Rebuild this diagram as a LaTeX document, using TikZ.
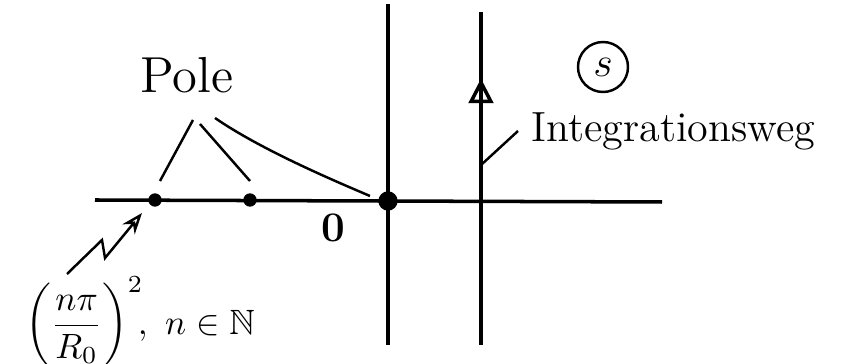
\documentclass[tikz,border=0pt]{standalone}
\usepackage{amssymb}
\usetikzlibrary{arrows.meta,decorations.markings}
\begin{document}
\begin{tikzpicture}[line width=1pt,
    pol/.style={circle,fill=black,inner sep=0pt,minimum size=#1},
    fein/.style={line width=0.7pt},
    weg/.style={decoration={markings,mark=at position 0.8 with {\arrow[line width=1pt]{Triangle[open,length=7pt,width=7pt]}}},postaction={decorate}}]
    \useasboundingbox (0,0) rectangle (8.54,3.64);

    % Achsen
    \draw (0.95,1.64) -- (6.62,1.62);
    \draw (3.88,0.19) -- (3.88,3.60);

    % Integrationsweg
    \draw[weg] (4.81,0.19) -- (4.81,3.52);
    \coordinate (w) at (4.81,1.99);

    % Pole
    \node[pol=5.5pt] (p0) at (3.88,1.63) {};
    \node[pol=3.8pt] (p1) at (1.55,1.64) {};
    \node[pol=3.8pt] (p2) at (2.50,1.64) {};
    \node[font=\large] (null) at (3.33,1.36) {\textbf{0}};

    % Etiketten
    \node[font=\Large] (pole) at (1.87,2.89) {Pole};
    \node[circle,draw,minimum size=0.5cm,inner sep=0pt,font=\large,fein] (s) at (6.03,2.97) {$s$};
    \node[anchor=west,font=\large] (iw) at (5.18,2.33) {Integrationsweg};
    \node (formel) at (1.40,0.42) {$\displaystyle\left(\frac{n\pi}{R_0}\right)^{2}\!\!,\ n\in\mathbb{N}$};

    % Verbindungen
    \coordinate (a1) at (1.93,2.44);
    \coordinate (a2) at (2.00,2.40);
    \coordinate (a3) at (2.15,2.46);
    \draw[fein] (a1) -- ([shift={(0.05,0.19)}]p1.center);
    \draw[fein] (a2) -- ([shift={(0,0.19)}]p2.center);
    \draw[fein] (a3) .. controls (2.6,2.15) and (3.3,1.85) .. ([shift={(-0.18,0.05)}]p0.center);
    \draw[fein] (w) -- (iw.west);
    \coordinate (z0) at (0.67,0.9);
    \draw[fein,-{Stealth[open,length=6pt]}] (z0) -- (1.02,1.24) -- (1.05,1.06) -- ([shift={(-0.13,-0.13)}]p1.center);
\end{tikzpicture}
\end{document}
